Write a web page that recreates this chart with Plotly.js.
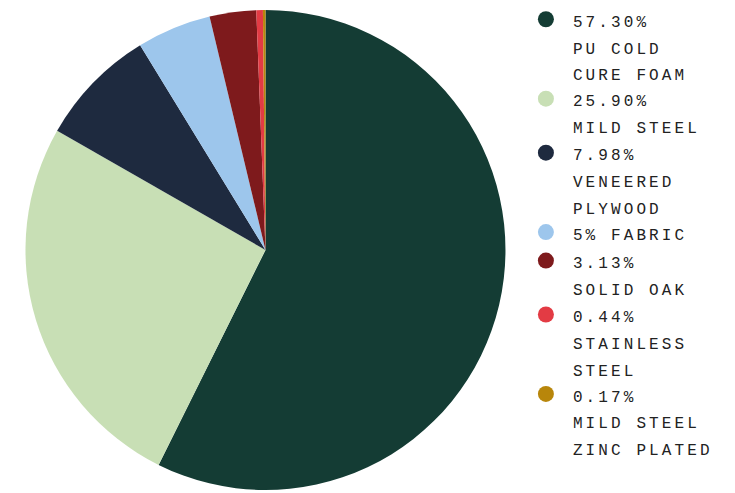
<!DOCTYPE html>
<html>
<head>
<meta charset="utf-8">
<script src="https://cdn.plot.ly/plotly-3.0.1.min.js"></script>
<style>
  html, body { margin: 0; padding: 0; background: #fff; }
  #chart { width: 735px; height: 493px; }
  .legendtext { font-size: 16px !important; letter-spacing: 3.1px; }
</style>
</head>
<body>
<div id="chart"></div>
<script>
const materials = ["PU COLD<br>CURE FOAM", "MILD STEEL", "VENEERED<br>PLYWOOD", "FABRIC", "SOLID OAK", "STAINLESS<br>STEEL", "MILD STEEL<br>ZINC PLATED"];
const shares = [57.30, 25.90, 7.98, 5, 3.13, 0.44, 0.17];
const shareLabels = ["57.30%", "25.90%", "7.98%", "5%", "3.13%", "0.44%", "0.17%"];
const colors = ["#143c34", "#c8dfb5", "#1e2a3f", "#9dc6ec", "#7e1a1c", "#e33b44", "#b8860b"];

const legendNames = materials.map((m, i) => shareLabels[i] + (shareLabels[i] === "5%" ? " " : "<br>") + m);

const LEGEND_FONT = 19.6;
const LINE_PX = 26.8;

const pie = {
  type: "pie",
  values: shares,
  labels: materials,
  marker: { colors: colors, line: { width: 0 } },
  sort: false,
  direction: "clockwise",
  rotation: 0,
  textinfo: "none",
  hoverinfo: "label+percent",
  showlegend: false,
  domain: { x: [0, 0.7224], y: [0, 0.9796] }
};

const legendTraces = materials.map((m, i) => ({
  type: "scatter",
  mode: "markers",
  x: [null], y: [null],
  name: legendNames[i],
  marker: { color: colors[i], size: 16, symbol: "circle" },
  showlegend: true,
  hoverinfo: "skip"
}));

const layout = {
  width: 735, height: 493,
  margin: { l: 0, r: 0, t: 0, b: 3 },
  paper_bgcolor: "#ffffff",
  plot_bgcolor: "#ffffff",
  xaxis: { visible: false },
  yaxis: { visible: false },
  showlegend: true,
  legend: {
    x: 0.706, xanchor: "left",
    y: 1.0, yanchor: "top",
    valign: "top",
    itemwidth: 44,
    font: { family: "Liberation Mono, DejaVu Sans Mono, monospace", size: LEGEND_FONT, color: "#222222" },
    bgcolor: "rgba(0,0,0,0)"
  }
};

function spaceLegendLines() {
  document.querySelectorAll("#chart .legendtext tspan.line").forEach(t => {
    const dy = t.getAttribute("dy") || "0em";
    if (dy.endsWith("em")) {
      const n = Math.round(parseFloat(dy) / 1.3);
      t.setAttribute("dy", (n * LINE_PX) + "px");
    }
  });
}

const gd = document.getElementById("chart");
Plotly.newPlot(gd, [pie].concat(legendTraces), layout, { displayModeBar: false, staticPlot: true }).then(() => {
  spaceLegendLines();
  gd.on("plotly_afterplot", spaceLegendLines);
});
</script>
</body>
</html>
